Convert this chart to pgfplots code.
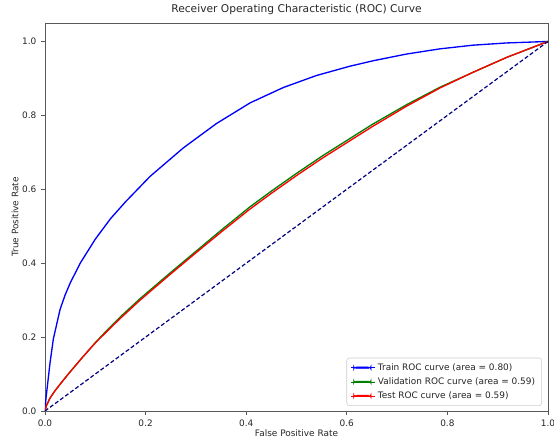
\documentclass[border=0pt]{standalone}
\usepackage{pgfplots}
\pgfplotsset{compat=1.18}
\usepackage{fontspec}
\setmainfont{DejaVu Sans}
\definecolor{mplgreen}{RGB}{0,128,0}
\definecolor{navy}{RGB}{0,0,128}
\definecolor{mplblue}{RGB}{0,0,255}
\begin{document}
\begin{tikzpicture}
\begin{axis}[
  scale only axis,
  width=377.25pt, height=291pt,
  xmin=0, xmax=1, ymin=0, ymax=1.05,
  xtick={0,0.2,0.4,0.6,0.8,1.0},
  ytick={0,0.2,0.4,0.6,0.8,1.0},
  xticklabel style={/pgf/number format/fixed,/pgf/number format/fixed zerofill,/pgf/number format/precision=1},
  yticklabel style={/pgf/number format/fixed,/pgf/number format/fixed zerofill,/pgf/number format/precision=1},
  /pgf/number format/assume math mode=true,
  ticklabel style={font=\fontsize{6.7}{8}\selectfont, text=black!85},
  tick align=outside, xtick pos=bottom, ytick pos=left,
  major tick length=3pt,
  tick style={black!65, line width=0.5pt},
  axis line style={black!65, line width=0.6pt},
  title={Receiver Operating Characteristic (ROC) Curve},
  title style={font=\fontsize{8}{9.6}\selectfont, text=black!85, at={(axis description cs:0.5,1)}, anchor=center, yshift=3.75pt},
  xlabel={False Positive Rate},
  ylabel={True Positive Rate},
  xlabel style={font=\fontsize{6.7}{8}\selectfont, text=black!85, at={(axis description cs:0.5,0)}, anchor=center, yshift=-17pt},
  ylabel style={font=\fontsize{6.7}{8}\selectfont, text=black!85, at={(axis description cs:0,0.5)}, anchor=center, yshift=22.5pt},
  legend style={at={(0.988,0.013)}, anchor=south east, draw=black!20, fill=white, rounded corners=2pt, row sep=0pt, inner xsep=3pt, inner ysep=2pt, nodes={font=\fontsize{6.7}{8}\selectfont, text=black!85}},
  legend cell align=left,
  legend image code/.code={\fill[#1] (2pt,-0.55pt) rectangle (15pt,0.55pt); \path (0pt,0pt) -- (18pt,0pt);},
]
\addlegendimage{color=mplblue}
\addlegendentry{Train ROC curve (area = 0.80)}
\addlegendimage{color=mplgreen}
\addlegendentry{Validation ROC curve (area = 0.59)}
\addlegendimage{color=red}
\addlegendentry{Test ROC curve (area = 0.59)}
\addplot[draw=mplblue, line width=1pt, forget plot] coordinates {
(0,0) (0.002,0.035) (0.0046,0.066) (0.01,0.13) (0.0166,0.195) (0.03,0.275)
(0.04,0.314) (0.05,0.346) (0.07,0.400) (0.1,0.465) (0.13,0.52) (0.16,0.566)
(0.209,0.635) (0.275,0.712) (0.341,0.778) (0.408,0.834) (0.474,0.8755)
(0.54,0.908) (0.606,0.933) (0.653,0.948) (0.719,0.966) (0.785,0.980)
(0.851,0.990) (0.918,0.996) (1,1)};
\addplot[draw=mplgreen, line width=1pt, forget plot] coordinates {
(0,0) (0.003,0.015) (0.01,0.035) (0.02,0.055) (0.035,0.081) (0.05,0.106)
(0.075,0.146) (0.1,0.185) (0.125,0.221) (0.15,0.255) (0.189,0.304)
(0.25,0.375) (0.3,0.432) (0.35,0.489) (0.408,0.553) (0.45,0.595)
(0.5,0.643) (0.55,0.689) (0.586,0.720) (0.65,0.775) (0.719,0.829)
(0.785,0.876) (0.85,0.916) (0.918,0.957) (1,1)};
\addplot[draw=red, line width=1pt, forget plot] coordinates {
(0,0) (0.003,0.015) (0.01,0.035) (0.02,0.055) (0.035,0.081) (0.05,0.106)
(0.075,0.146) (0.1,0.184) (0.125,0.218) (0.15,0.251) (0.189,0.300)
(0.25,0.371) (0.3,0.428) (0.35,0.484) (0.408,0.547) (0.45,0.589)
(0.5,0.637) (0.55,0.683) (0.586,0.714) (0.65,0.769) (0.719,0.825)
(0.785,0.874) (0.85,0.916) (0.918,0.957) (1,1)};
\addplot[draw=navy, line width=0.9pt, dash pattern=on 3pt off 1.7pt, forget plot] coordinates {(0,0) (1,1)};
\end{axis}
\pgfresetboundingbox
\path (-33.75pt,-23.25pt) rectangle (381.75pt,308.25pt);
\end{tikzpicture}
\end{document}
